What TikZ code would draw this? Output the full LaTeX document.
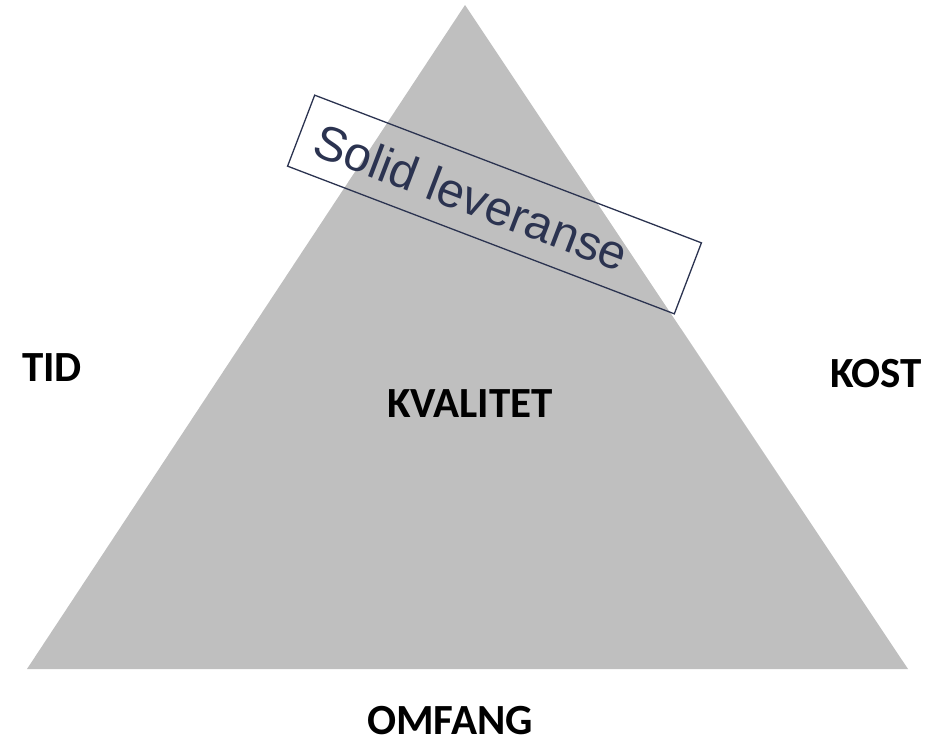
\documentclass[tikz,border=0pt]{standalone}
\usepackage{fontspec}
\setmainfont{Liberation Sans}
\newfontfamily\calibrifont{Carlito}
\definecolor{trigray}{HTML}{BFBFBF}
\definecolor{navy}{HTML}{2B3350}
\begin{document}
\begin{tikzpicture}[x=1pt,y=-1pt,
  lbl/.style={font=\calibrifont\bfseries\fontsize{43}{43}\selectfont, text=black, inner sep=0pt},
  framebox/.style={draw=navy, line width=1.3pt, rotate=-20.9, minimum width=414pt, minimum height=76pt, inner sep=0pt},
  boxtext/.style={text=navy, rotate=-20.9, inner sep=0pt, font=\fontsize{48.5}{48.5}\selectfont}]
\useasboundingbox (0,0) rectangle (935,744);
\coordinate (apex) at (465,5);
\coordinate (bl) at (27,669);
\coordinate (br) at (908,669);
\fill[trigray] (apex) -- (bl) -- (br) -- cycle;
\node[lbl] (tid) at (52,368) {TID};
\node[lbl] (kval) at (470,404) {KVALITET};
\node[lbl] (kost) at (876,374) {KOST};
\node[lbl] (omf) at (450,721) {OMFANG};
\node[framebox] (box) at (494.5,204.5) {};
\node[boxtext] (sl) at (471.5,197) {Solid leveranse};
\end{tikzpicture}
\end{document}
